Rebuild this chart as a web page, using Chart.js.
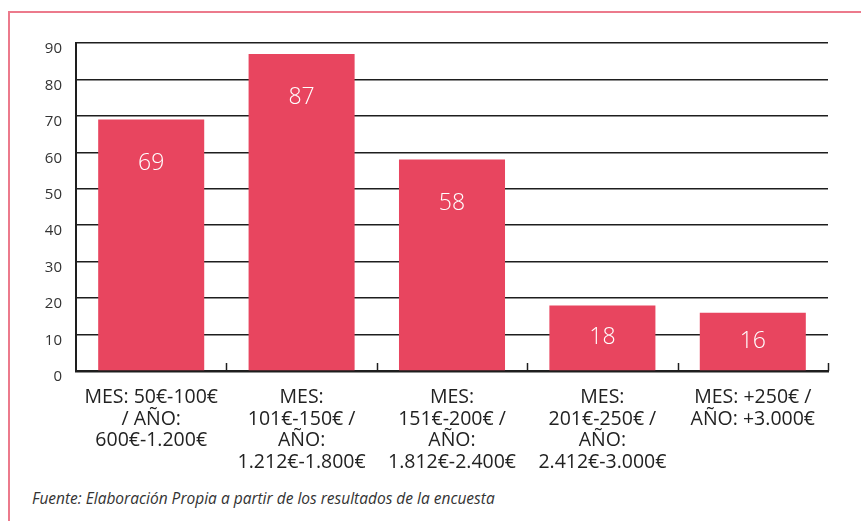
<!DOCTYPE html>
<html>
<head>
<meta charset="utf-8">
<script src="https://cdn.jsdelivr.net/npm/chart.js@4.4.0/dist/chart.umd.min.js"></script>
<style>
  html, body { margin: 0; padding: 0; background: #fff; }
  body { width: 861px; height: 521px; position: relative; overflow: hidden; font-family: 'Open Sans', sans-serif; }
  #frame { position: absolute; left: 8px; top: 11px; width: 880px; height: 560px; border: 2px solid #ec7a8c; box-sizing: border-box; }
  #wrap { position: absolute; left: 0; top: 0; width: 861px; height: 475px; }
  #source { position: absolute; left: 32px; top: 487px; font-size: 15.5px; font-style: italic; color: #333; }
</style>
</head>
<body>
<div id="frame"></div>
<div id="wrap"><canvas id="chart"></canvas></div>
<div id="source">Fuente: Elaboración Propia a partir de los resultados de la encuesta</div>
<script>
const categories = [
    ['MES: 50€-100€', '/ AÑO:', '600€-1.200€'],
    ['MES:', '101€-150€ /', 'AÑO:', '1.212€-1.800€'],
    ['MES:', '151€-200€ /', 'AÑO:', '1.812€-2.400€'],
    ['MES:', '201€-250€ /', 'AÑO:', '2.412€-3.000€'],
    ['MES: +250€ /', 'AÑO: +3.000€']
];
const values = [69, 87, 58, 18, 16];
const yTicks = [0, 10, 20, 30, 40, 50, 60, 70, 80, 90];

const barColor = '#e8455f';
const ink = '#1e1e1e';

// white value labels inside the bars + inward ticks on the category axis
const barExtras = {
    id: 'barExtras',
    afterDatasetsDraw(chart) {
        const ctx = chart.ctx;
        const meta = chart.getDatasetMeta(0);
        const x = chart.scales.x, area = chart.chartArea;
        ctx.save();
        ctx.fillStyle = '#fff';
        ctx.font = '300 23px "Open Sans"';
        ctx.textAlign = 'center';
        ctx.textBaseline = 'middle';
        meta.data.forEach((bar, i) => {
            const h = bar.base - bar.y;
            const y = bar.y + Math.min(44, h / 2);
            ctx.fillText(String(values[i]), bar.x, y);
        });
        // ticks between categories, pointing up
        const step = x.getPixelForValue(1) - x.getPixelForValue(0);
        ctx.strokeStyle = ink;
        ctx.lineWidth = 1.5;
        for (let i = 0; i < values.length; i++) {
            const px = Math.round(x.getPixelForValue(i) + step / 2) + 0.5;
            ctx.beginPath();
            ctx.moveTo(px, area.bottom);
            ctx.lineTo(px, area.bottom - 8);
            ctx.stroke();
        }
        ctx.restore();
    }
};

new Chart(document.getElementById('chart'), {
    type: 'bar',
    data: {
        labels: categories,
        datasets: [{ data: values, backgroundColor: barColor, barPercentage: 0.705, categoryPercentage: 1 }]
    },
    options: {
        responsive: true, maintainAspectRatio: false, animation: false,
        layout: { padding: { top: 43, right: 33, left: 0, bottom: 0 } },
        plugins: { legend: { display: false }, tooltip: { enabled: false } },
        scales: {
            y: {
                min: 0, max: 90,
                afterBuildTicks: s => { s.ticks = yTicks.map(v => ({ value: v })); },
                afterFit: s => { s.width = 76; },
                grid: { color: ink, lineWidth: 1.5, drawTicks: false },
                border: { color: ink, width: 2 },
                ticks: { color: '#333', font: { family: 'Open Sans', size: 15 }, padding: 14, labelOffset: 6 }
            },
            x: {
                afterFit: s => { s.height = 104; },
                grid: { display: false },
                border: { color: ink, width: 2.5 },
                ticks: { color: '#222', font: { family: 'Open Sans', size: 19.5, lineHeight: 1.1 }, padding: 8, maxRotation: 0, autoSkip: false }
            }
        }
    },
    plugins: [barExtras]
});
</script>
</body>
</html>
